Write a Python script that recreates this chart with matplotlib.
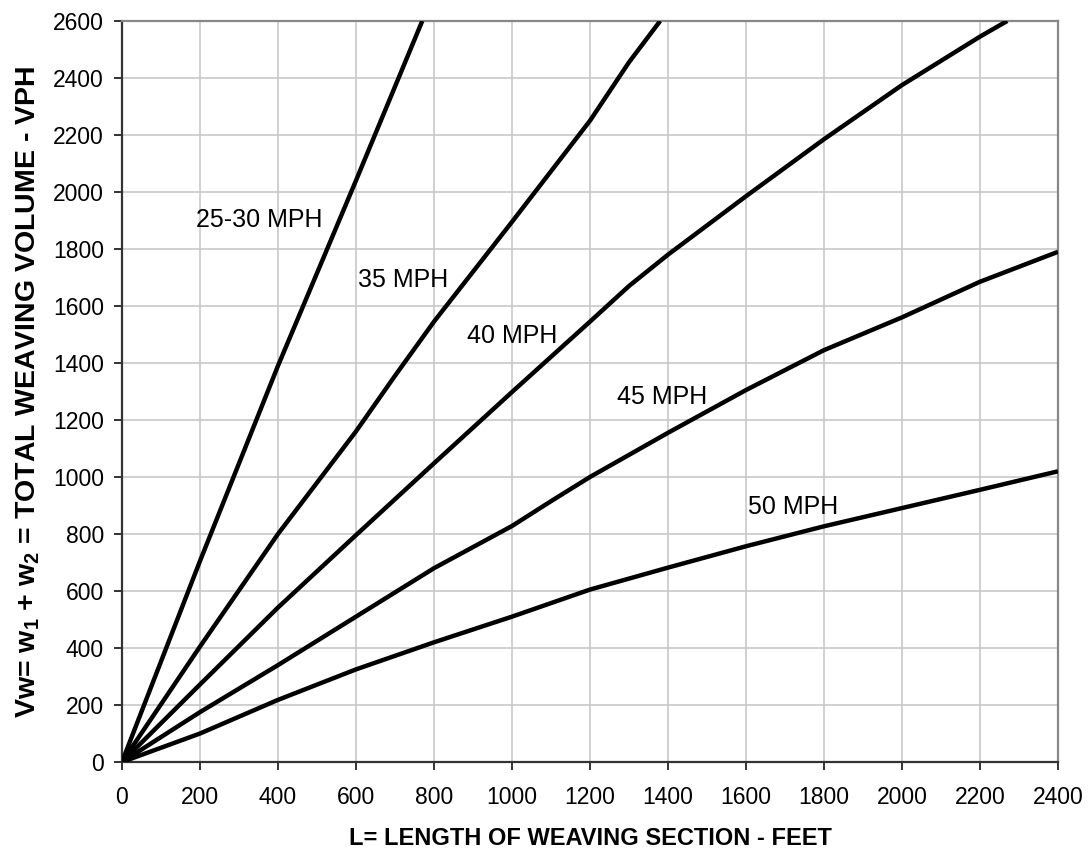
import matplotlib
matplotlib.use('Agg')
import matplotlib.pyplot as plt

plt.rcParams['font.family'] = ['Liberation Sans', 'DejaVu Sans']
plt.rcParams['mathtext.fontset'] = 'custom'
plt.rcParams['mathtext.rm'] = 'Liberation Sans'
plt.rcParams['mathtext.bf'] = 'Liberation Sans:bold'

# curve data (length in feet, volume in vph)
x_25 = [0, 200, 400, 600, 770]
y_25 = [0, 705, 1390, 2040, 2600]

x_35 = [0, 200, 400, 600, 700, 800, 1000, 1200, 1300, 1380]
y_35 = [0, 405, 800, 1160, 1355, 1545, 1895, 2250, 2455, 2600]

x_40 = [0, 200, 400, 600, 800, 1000, 1200, 1300, 1400, 1600, 1800, 2000, 2200, 2270]
y_40 = [0, 272, 542, 796, 1048, 1298, 1545, 1670, 1780, 1985, 2185, 2375, 2545, 2600]

x_45 = [0, 200, 400, 600, 800, 1000, 1100, 1200, 1400, 1600, 1800, 2000, 2200, 2400]
y_45 = [0, 175, 340, 510, 680, 828, 915, 1000, 1155, 1305, 1445, 1560, 1685, 1790]

x_50 = [0, 200, 400, 600, 800, 1000, 1200, 1400, 1600, 1800, 2000, 2200, 2400]
y_50 = [0, 100, 218, 325, 420, 510, 605, 682, 757, 827, 891, 955, 1020]

curve_labels = ['25-30 MPH', '35 MPH', '40 MPH', '45 MPH', '50 MPH']
label_x = [190, 605, 885, 1270, 1605]
label_y = [1900, 1690, 1495, 1280, 895]

x_ticks = list(range(0, 2401, 200))
y_ticks = list(range(0, 2601, 200))

fig = plt.figure(figsize=(10.9, 8.52), dpi=100)
ax = fig.add_axes([0.1119, 0.1056, 0.8587, 0.8698])

for xs, ys in [(x_25, y_25), (x_35, y_35), (x_40, y_40), (x_45, y_45), (x_50, y_50)]:
    ax.plot(xs, ys, color='black', lw=3.2, solid_capstyle='butt', solid_joinstyle='round', zorder=3)

for txt, tx, ty in zip(curve_labels, label_x, label_y):
    ax.text(tx, ty, txt, fontsize=18, ha='left', va='center', zorder=4)

ax.set_xlim(0, 2400)
ax.set_ylim(0, 2600)
ax.set_xticks(x_ticks)
ax.set_yticks(y_ticks)
ax.grid(True, color='#c8c8c8', lw=1.2)
ax.set_axisbelow(True)

ax.spines['left'].set_color('#333333')
ax.spines['bottom'].set_color('#333333')
ax.spines['left'].set_linewidth(1.6)
ax.spines['bottom'].set_linewidth(1.6)
ax.spines['top'].set_color('#888888')
ax.spines['right'].set_color('#888888')
ax.spines['top'].set_linewidth(1.6)
ax.spines['right'].set_linewidth(1.6)

ax.tick_params(axis='x', direction='out', length=6, width=1.4, color='#333333', labelsize=16.5, pad=11)
ax.tick_params(axis='y', direction='out', length=6, width=1.4, color='#333333', labelsize=16.5, pad=7)

ax.set_xlabel('L= LENGTH OF WEAVING SECTION - FEET', fontsize=17, fontweight='bold', labelpad=13)
ax.set_ylabel(r'Vw= $\mathbf{w_1}$ + $\mathbf{w_2}$ = TOTAL WEAVING VOLUME - VPH',
              fontsize=20.5, fontweight='bold', labelpad=8)

fig.savefig('out.png', dpi=100)
